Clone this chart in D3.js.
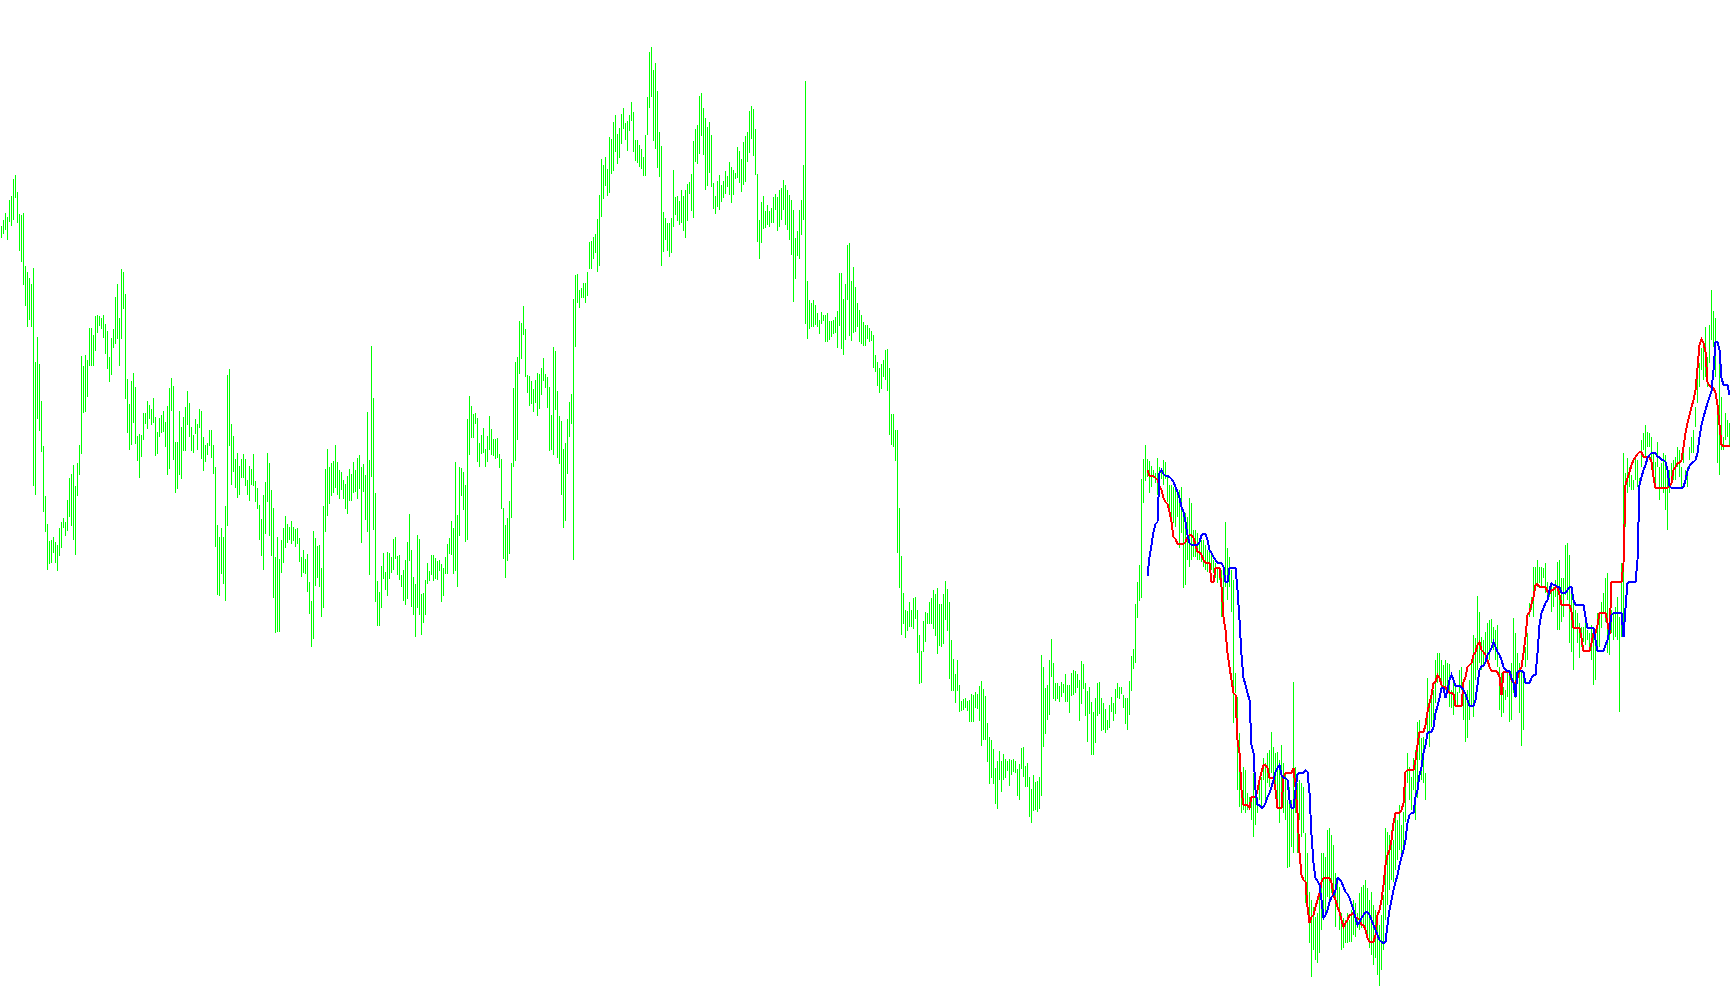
<!DOCTYPE html>
<html><head><meta charset="utf-8">
<script src="https://cdn.jsdelivr.net/npm/d3@7"></script>
<style>html,body{margin:0;padding:0;background:#fff;overflow:hidden}</style>
</head><body>
<svg id="chart" width="1730" height="1005"></svg>
<script>
// Bar highs (one per bar, arbitrary price units)
const highs = [
774,780,787,783,800,804,821,825,808,786,
785,787,734,728,722,716,732,638,663,636,
599,554,504,476,459,460,463,458,455,472,
478,482,478,500,522,526,535,514,537,555,
644,634,645,640,672,672,665,684,685,684,
682,685,676,669,643,662,671,703,716,682,
731,728,706,621,596,619,627,613,564,566,
565,587,587,599,595,591,602,583,568,582,
585,589,578,594,612,622,614,558,558,589,
573,583,593,609,597,573,565,
581,576,591,589,563,555,557,570,570,555,
533,475,463,472,463,494,625,631,576,564,
541,547,534,541,546,541,520,534,531,546,
519,512,495,481,505,518,547,537,510,492,
443,463,441,460,472,484,476,473,479,473,
471,472,462,443,450,441,446,418,399,469,
462,454,455,432,494,531,551,533,537,539,
555,538,530,528,520,516,524,531,526,538,
530,542,545,533,536,525,588,540,654,602,
507,419,408,434,447,428,448,447,
443,461,463,444,445,425,430,440,458,486,
450,423,416,465,461,406,407,420,437,429,
445,445,442,439,440,436,432,443,456,462,
479,472,538,485,533,532,528,515,581,604,
594,586,587,582,557,565,572,551,564,584,
571,561,561,562,546,541,492,475,482,499,
537,612,638,643,679,677,694,671,625,624,
619,611,620,627,626,632,642,626,623,613,
585,653,649,609,584,579,551,557,581,598,
606,701,725,726,710,712,717,
717,728,758,759,763,766,781,805,841,835,
843,831,863,861,878,885,866,872,886,892,
877,879,885,898,888,860,860,855,851,843,
865,903,948,953,930,937,909,868,854,788,
782,777,777,782,830,803,804,799,810,804,
810,816,818,826,859,871,875,904,907,892,
882,873,878,865,817,804,819,825,815,819,
829,824,838,833,830,827,853,849,841,858,
864,868,889,894,891,871,826,780,798,804,
789,795,789,792,803,806,803,810,
812,820,815,810,805,800,790,762,769,790,
800,835,919,719,700,697,700,695,687,680,
688,685,685,687,679,679,680,683,689,727,
727,701,716,755,757,719,733,713,697,690,
685,678,675,675,672,669,665,645,638,632,
636,640,650,651,632,586,586,570,570,492,
444,407,390,389,398,390,402,403,390,365,
349,379,388,387,398,402,410,406,412,396,
396,406,419,411,398,360,341,326,340,315,
299,301,302,299,300,306,305,
308,306,314,319,311,304,277,263,260,251,
232,239,249,239,246,241,239,241,240,241,
239,231,236,252,253,234,237,223,211,225,
218,219,223,345,333,312,315,340,361,337,
317,317,314,318,316,326,315,315,327,330,
329,326,320,339,336,317,309,313,298,288,
302,317,318,302,297,291,280,295,303,297,
311,317,313,313,305,302,302,319,344,351,
396,418,435,521,541,555,541,539,534,530,
527,542,533,529,540,538,523,515,
515,513,510,510,510,513,490,487,483,502,
497,470,470,467,460,460,460,455,450,448,
448,440,437,433,432,430,427,478,452,443,
430,420,327,303,267,220,233,230,207,203,
203,227,217,203,217,223,242,237,247,250,
268,253,247,248,240,255,237,227,200,213,
200,318,233,217,220,217,213,167,147,108,
100,93,83,87,103,147,147,143,170,172,
165,155,127,120,113,87,82,80,87,80,
90,100,97,87,107,113,115,
120,112,100,108,95,90,80,75,85,105,
172,168,165,170,160,185,180,195,175,188,
223,247,233,223,242,250,278,280,262,263,
227,322,293,310,310,340,347,347,340,335,
340,337,336,310,317,313,308,330,333,312,
307,310,320,337,365,362,404,388,363,360,
368,377,380,381,373,370,375,333,327,313,
310,327,330,337,382,367,347,337,330,327,
353,367,397,403,433,433,440,433,433,432,
437,418,413,417,413,420,438,440,
422,422,455,457,445,413,400,390,387,377,
373,373,377,370,367,375,373,367,387,387,
398,407,422,427,383,390,387,393,403,383,
437,547,527,542,533,525,520,543,540,522,
560,567,575,568,567,563,547,538,558,533,
537,547,545,527,530,537,540,543,553,550,
533,552,530,533,553,563,570,593,632,637,
652,653,673,643,675,710,689,682,587,640,
603,563,587,580,577
];
// Bar lows
const lows = [
762,766,770,760,778,774,780,802,777,749,
738,715,694,673,680,673,514,505,581,569,
548,488,468,430,436,437,447,437,429,444,
452,472,464,469,483,474,460,445,504,525,
546,587,588,603,634,634,634,649,667,674,
671,662,646,631,618,625,652,656,661,634,
661,691,601,567,550,555,577,556,539,522,
543,560,576,571,581,575,577,544,546,563,
567,568,553,525,531,589,540,507,511,525,
521,549,549,575,563,549,547,
566,550,572,541,529,538,545,554,542,526,
453,405,404,426,416,399,474,554,515,528,
512,502,505,522,522,514,505,499,515,514,
498,491,460,444,430,466,498,464,444,402,
367,368,368,427,437,452,457,460,456,459,
453,456,438,423,427,426,408,386,353,361,
414,422,413,383,392,468,484,496,504,507,
512,505,501,510,501,491,486,499,499,507,
508,501,511,457,508,480,468,425,523,470,
398,374,374,392,421,410,404,421,
427,430,441,425,420,413,399,395,401,439,
393,385,363,392,385,365,377,385,416,419,
425,419,421,420,429,398,404,426,426,446,
445,426,429,413,464,504,490,458,460,545,
562,562,576,538,533,546,547,533,538,550,
545,544,541,542,532,491,441,422,439,446,
482,533,539,560,626,641,665,623,607,594,
596,588,597,584,591,605,619,612,592,549,
550,545,590,542,536,505,472,479,526,563,
576,440,653,697,692,702,702,
697,704,731,731,741,747,728,734,783,801,
814,804,807,826,829,848,836,842,856,871,
860,849,869,879,848,839,837,833,831,824,
824,865,892,903,859,851,832,823,734,748,
760,749,743,747,773,785,779,775,777,769,
762,779,806,789,782,838,836,846,864,845,
810,814,827,813,791,786,793,790,798,802,
806,813,805,797,805,821,822,817,808,815,
818,838,847,861,844,825,758,741,757,771,
772,775,773,777,777,790,769,773,
780,790,775,770,760,745,698,721,744,741,
765,780,676,661,671,673,673,675,673,666,
676,679,658,658,660,663,666,667,652,674,
651,645,660,700,664,659,667,668,673,658,
656,654,654,661,658,659,632,628,614,607,
611,623,620,609,565,555,553,539,447,412,
365,376,362,369,373,373,371,381,347,316,
317,348,358,376,376,376,371,364,346,354,
353,356,380,369,321,309,309,297,309,288,
289,290,292,289,278,278,278,
292,291,279,254,260,260,238,216,222,216,
196,191,220,208,220,222,229,214,225,228,
227,204,200,231,223,213,213,183,177,189,
190,188,191,204,253,266,280,285,323,301,
299,301,298,303,307,298,298,287,304,305,
307,312,279,296,311,284,258,286,245,245,
257,284,286,269,270,267,270,272,288,279,
286,302,301,306,292,276,270,285,309,331,
337,382,399,402,497,519,523,507,513,522,
517,505,512,521,515,521,498,484,
482,477,473,483,452,467,412,415,440,433,
440,443,443,440,440,438,433,430,428,437,
430,427,422,417,420,383,393,413,400,413,
388,277,307,210,193,187,190,187,190,193,
180,163,175,187,200,193,220,197,217,213,
227,217,203,197,177,193,187,180,132,133,
153,147,187,147,180,163,167,97,93,57,
23,50,40,37,47,70,80,87,103,97,
107,110,73,90,70,50,52,57,57,58,
58,65,63,72,70,72,75,
70,62,52,45,35,42,25,14,30,50,
80,95,110,120,118,130,140,150,140,150,
178,217,200,190,210,180,202,240,220,217,
200,263,253,273,280,297,317,323,307,313,
310,313,293,292,285,293,293,307,310,280,
258,262,280,293,283,320,330,337,330,333,
347,347,340,357,350,340,333,290,283,287,
300,303,278,280,307,302,323,287,254,270,
333,340,383,390,383,410,413,417,413,422,
407,405,403,388,393,403,370,370,
378,383,405,400,357,348,330,373,357,342,
353,358,355,360,353,340,315,320,353,353,
372,387,378,347,345,367,360,363,360,288,
363,363,473,507,513,510,510,520,513,510,
533,550,543,553,553,540,527,513,533,500,
513,507,490,470,507,520,520,520,533,523,
513,537,517,513,540,547,547,573,597,613,
630,620,623,613,637,660,653,623,537,525,
550,550,560,563,553
];
// Indicator lines (start at bar 573)
const lineStart = 573;
const redLine = [
530,524,524,524,522,520,514,510,502,498,
496,488,478,463,461,456,456,456,456,458,
463,465,465,462,455,448,448,445,440,437,
437,437,418,418,432,432,432,413,383,370,
347,333,320,307,305,260,247,210,195,195,
195,192,203,203,203,210,220,228,235,235,
232,222,222,222,210,192,192,192,223,227,
227,227,227,232,213,187,147,125,120,118,
93,77,83,85,93,100,107,118,122,122,
122,122,117,105,100,93,88,80,73,77,
80,85,85,88,82,82,80,75,75,70,
62,58,58,58,65,85,90,100,115,135,
145,150,160,177,187,187,187,190,197,228,
230,230,230,230,240,255,268,268,268,275,
288,297,305,317,318,325,322,315,313,313,
310,307,307,306,294,294,294,294,318,323,
333,335,337,345,348,355,358,350,348,345,
340,333,329,329,329,328,323,305,328,328,
328,328,320,317,317,322,330,333,347,363,
385,388,396,403,415,416,413,413,413,413,
408,406,410,410,413,413,405,
395,395,395,395,395,388,372,372,372,372,
362,349,349,349,349,357,367,367,375,387,
387,387,387,377,365,418,418,418,418,418,
418,437,515,522,528,535,540,543,546,548,
548,543,543,543,543,538,523,512,512,512,
512,512,512,512,514,517,530,533,537,537,
540,553,567,577,585,593,600,610,632,655,
661,657,648,618,614,613,612,607,595,575,
555,554,554,554,554
];
const blueLine = [
424,443,455,468,476,478,527,530,526,524,
524,523,521,518,513,508,502,493,488,478,
465,457,455,455,455,455,458,465,466,466,
460,450,447,443,440,437,437,437,433,418,
418,432,432,432,432,410,380,345,322,315,
307,300,255,247,210,195,195,192,193,197,
203,207,213,220,228,232,235,225,222,222,
220,200,192,192,210,226,227,227,227,230,
228,207,165,137,122,119,115,100,82,85,
90,98,103,105,110,122,121,118,113,108,
106,102,96,90,82,75,78,82,85,88,
88,85,80,75,70,65,60,58,57,58,
75,90,100,110,118,125,135,143,150,160,
177,185,187,187,203,210,225,233,247,255,
267,268,268,273,287,294,302,312,312,302,
310,320,325,320,314,314,314,313,310,306,
300,294,294,294,300,315,330,334,334,338,
345,348,352,358,353,348,345,340,333,330,
329,329,322,317,303,328,329,329,328,317,
317,317,322,325,325,347,375,387,392,397,
400,410,417,415,415,413,413,
407,407,407,410,413,413,400,395,395,395,
395,395,383,372,372,372,372,360,349,349,
349,349,355,360,370,385,387,387,387,387,
387,363,392,417,418,418,418,418,440,515,
523,530,535,542,545,547,547,547,543,543,
540,540,538,530,514,512,512,512,512,512,
512,513,520,529,534,537,538,540,547,563,
575,583,590,597,603,609,630,658,658,650,
622,615,615,615,605
];

const W = 1730, H = 1005;
const x = d3.scaleLinear().domain([0, 864]).range([1.5, 1729.5]);
const y = d3.scaleLinear().domain([-5, 1000]).range([H, 0]);
const svg = d3.select('#chart');

const bars = highs.map((h, i) => ({ i, h, l: lows[i] }));
svg.append('g').selectAll('line').data(bars).join('line')
  .attr('x1', d => x(d.i)).attr('x2', d => x(d.i))
  .attr('y1', d => y(d.h)).attr('y2', d => y(d.l))
  .attr('stroke', '#00ff00').attr('stroke-width', 1)
  .attr('shape-rendering', 'crispEdges');

const line = d3.line().x((d, i) => x(lineStart + i)).y(d => y(d));
svg.append('path').datum(redLine).attr('d', line)
  .attr('fill', 'none').attr('stroke', '#ff0000').attr('stroke-width', 2)
  .attr('shape-rendering', 'crispEdges');
svg.append('path').datum(blueLine).attr('d', line)
  .attr('fill', 'none').attr('stroke', '#0000ff').attr('stroke-width', 2)
  .attr('shape-rendering', 'crispEdges');
</script>
</body></html>
